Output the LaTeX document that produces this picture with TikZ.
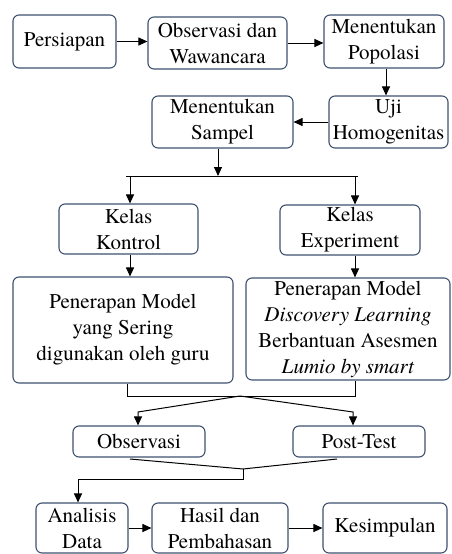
\documentclass[tikz,border=0pt]{standalone}
\usepackage{fontspec}
\setmainfont{TeX Gyre Termes}
\usetikzlibrary{arrows.meta}
\definecolor{boxline}{RGB}{62,82,112}
\tikzset{
  box/.style={draw=boxline, line width=1.1pt, rounded corners=6pt, align=center,
    inner sep=0pt, font=\rmfamily\fontsize{21}{26}\selectfont, text=black},
  conn/.style={line width=1pt, draw=black},
  arr/.style={conn, -{Triangle[length=9pt,width=8pt]}}
}
\begin{document}
\begin{tikzpicture}[x=1pt,y=-1pt]
\useasboundingbox (0,0) rectangle (452,554);
% row 1
\node[box, minimum width=103pt, minimum height=53pt] (persiapan) at (64.5,41.5) {Persiapan};
\node[box, minimum width=139pt, minimum height=52pt] (obs) at (217.5,43) {Observasi dan\\Wawancara};
\node[box, minimum width=120pt, minimum height=53pt] (pop) at (384,41.5) {Menentukan\\Popolasi};
% row 2
\node[box, minimum width=119pt, minimum height=52pt] (uji) at (388.5,122) {Uji\\Homogenitas};
\node[box, minimum width=141pt, minimum height=52pt] (sampel) at (222.5,122) {Menentukan\\Sampel};
% row 3
\node[box, minimum width=139pt, minimum height=50pt] (kontrol) at (128.5,229) {Kelas\\Kontrol};
\node[box, minimum width=140pt, minimum height=50pt] (exp) at (350,230) {Kelas\\Experiment};
% row 4
\node[box, minimum width=220pt, minimum height=106pt] (penL) at (123,330) {Penerapan Model\\yang Sering\\digunakan oleh guru};
\node[box, minimum width=204pt, minimum height=102pt] (penR) at (348,329) {Penerapan Model\\\textit{Discovery Learning}\\Berbantuan Asesmen\\\textit{Lumio by smart}};
% row 5
\node[box, minimum width=132pt, minimum height=31pt] (observasi) at (139,441.5) {Observasi};
\node[box, minimum width=132pt, minimum height=31pt] (post) at (359,441.5) {Post-Test};
% row 6
\node[box, minimum width=92pt, minimum height=50pt] (analisis) at (82,528) {Analisis\\Data};
\node[box, minimum width=136pt, minimum height=50pt] (hasil) at (220,528) {Hasil dan\\Pembahasan};
\node[box, minimum width=124pt, minimum height=50pt] (kesimpulan) at (385,528) {Kesimpulan};

% coordinates
\coordinate (s1) at (218,176);
\coordinate (hL) at (126,176);
\coordinate (hR) at (358,176);
\coordinate (jL) at (127,396);
\coordinate (jR) at (355,396);
\coordinate (jM) at (240,396);
\coordinate (dL) at (138,412);
\coordinate (dR) at (353,412);
\coordinate (oB) at (130,459);
\coordinate (pB) at (337,459);
\coordinate (m2) at (243,469);
\coordinate (m3) at (243,479);
\coordinate (m4) at (78,479);

% connectors
\draw[arr] (persiapan.east) -- (obs.west |- persiapan.east);
\draw[arr] (obs.east) -- (pop.west |- obs.east);
\draw[arr] (pop.south -| 386,0) -- (uji.north -| 386,0);
\draw[arr] (uji.west) -- (sampel.east);
\draw[arr] (sampel.south -| s1) -- (s1);
\draw[conn] (hL) -- (hR);
\draw[arr] (130,176) -- (kontrol.north -| 130,0);
\draw[arr] (355,176) -- (exp.north -| 355,0);
\draw[arr] (kontrol.south -| 130,0) -- (penL.north -| 130,0);
\draw[arr] (exp.south -| 355,0) -- (penR.north -| 355,0);
\draw[conn] (penL.south -| jL) -- (jL) -- (jR) -- (penR.south -| jR);
\draw[arr] (jM) -- (dL) -- (observasi.north -| dL);
\draw[arr] (jM) -- (dR) -- (post.north -| dR);
\draw[conn] (oB) -- (m2) -- (pB);
\draw[arr] (m2) -- (m3) -- (m4) -- (analisis.north -| m4);
\draw[arr] (analisis.east) -- (hasil.west);
\draw[arr] (hasil.east) -- (kesimpulan.west);
\end{tikzpicture}
\end{document}
